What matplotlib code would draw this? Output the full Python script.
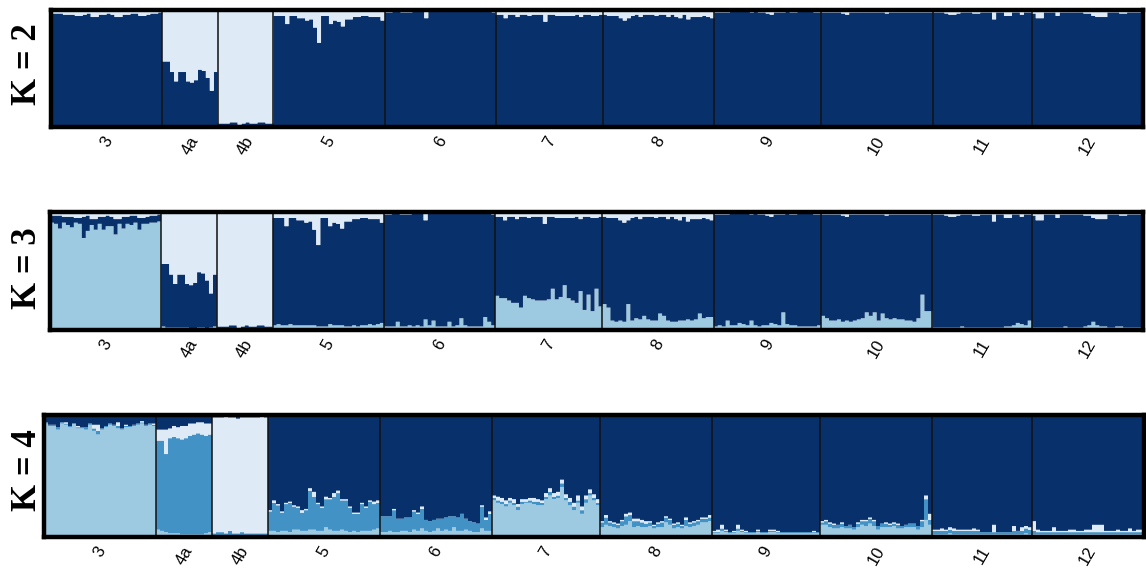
import numpy as np
import matplotlib
matplotlib.use("Agg")
import matplotlib.pyplot as plt

# populations and number of individuals in each
pops = ["3", "4a", "4b", "5", "6", "7", "8", "9", "10", "11", "12"]
n_ind = [28, 14, 14, 28, 28, 27, 28, 27, 28, 25, 28]

# cluster colours (Blues)
navy = "#08306b"
pale = "#deebf7"
light = "#9ecae1"
mid = "#4292c6"

# K=2 / K=3: membership (%) in the pale cluster, drawn on top
pale_top = [
    [3, 3, 3, 4, 4, 4, 5, 5, 4, 3, 6, 6, 4, 4, 3, 4, 6, 6, 4, 4, 3, 3, 5, 5, 4, 3, 3, 2],
    [44, 44, 53, 61, 53, 53, 61, 62, 60, 51, 52, 58, 69, 53],
    [97, 97, 97, 96, 96, 98, 97, 96, 97, 97, 96, 96, 97, 97],
    [5, 5, 5, 12, 5, 5, 7, 7, 9, 8, 15, 28, 5, 5, 12, 9, 10, 14, 8, 8, 6, 6, 5, 5, 6, 6, 6, 9],
    [2, 2, 1, 1, 2, 2, 2, 1, 1, 1, 7, 1, 1, 1, 1, 1, 1, 1, 1, 1, 1, 1, 1, 1, 1, 1, 1, 2],
    [4, 4, 7, 4, 4, 6, 4, 4, 5, 4, 4, 4, 10, 4, 4, 5, 5, 5, 5, 5, 4, 6, 4, 4, 5, 5, 4],
    [4, 5, 5, 5, 7, 9, 7, 5, 4, 6, 4, 4, 4, 5, 4, 4, 6, 4, 6, 7, 4, 8, 6, 6, 6, 5, 6, 7],
    [2, 2, 2, 2, 1, 1, 1, 1, 1, 2, 1, 2, 2, 3, 4, 2, 2, 2, 1, 2, 2, 1, 1, 1, 1, 2, 2],
    [2, 2, 2, 2, 2, 3, 4, 2, 2, 2, 2, 2, 2, 2, 2, 2, 3, 2, 2, 2, 2, 2, 2, 2, 2, 2, 2, 2],
    [2, 2, 2, 3, 4, 4, 3, 2, 2, 2, 3, 3, 2, 2, 2, 8, 2, 2, 5, 5, 2, 2, 4, 2, 2],
    [3, 7, 7, 2, 2, 2, 5, 2, 2, 2, 2, 2, 2, 3, 3, 5, 6, 6, 6, 2, 2, 2, 3, 3, 2, 2, 2, 2],
]

# K=3: membership (%) in the light-blue cluster, drawn at the bottom
k3_light = [
    [91, 90, 86, 91, 89, 87, 91, 90, 78, 84, 89, 85, 90, 85, 88, 88, 81, 90, 86, 90, 89, 91, 85, 90, 90, 91, 91, 92],
    [3, 2, 2, 2, 2, 2, 2, 1, 1, 2, 2, 1, 2, 3],
    [1, 0, 0, 1, 0, 0, 0, 1, 0, 0, 0, 1, 0, 0],
    [4, 5, 4, 4, 5, 4, 4, 4, 4, 4, 4, 3, 3, 3, 5, 4, 4, 4, 3, 3, 4, 3, 4, 4, 5, 4, 5, 6],
    [3, 3, 3, 7, 3, 3, 4, 3, 4, 3, 9, 4, 8, 3, 3, 3, 7, 3, 4, 10, 4, 3, 3, 3, 3, 11, 7, 4],
    [29, 27, 27, 25, 23, 23, 19, 29, 27, 26, 25, 25, 25, 26, 35, 26, 28, 38, 27, 25, 23, 33, 17, 30, 16, 35, 20],
    [22, 19, 8, 7, 8, 7, 22, 8, 10, 9, 12, 9, 8, 8, 14, 12, 8, 7, 7, 8, 8, 9, 8, 9, 14, 10, 11, 11],
    [3, 4, 3, 8, 4, 4, 6, 5, 4, 8, 4, 3, 4, 4, 6, 5, 4, 15, 5, 4, 4, 3, 3, 3, 3, 3, 4],
    [12, 10, 8, 8, 9, 7, 8, 7, 8, 9, 10, 15, 12, 15, 8, 14, 10, 9, 10, 9, 9, 8, 8, 7, 10, 30, 16, 16],
    [2, 2, 2, 2, 2, 2, 2, 3, 2, 2, 2, 2, 2, 2, 2, 2, 2, 2, 3, 3, 4, 6, 5, 4, 8],
    [2, 2, 2, 2, 2, 2, 2, 2, 3, 2, 2, 2, 2, 3, 4, 7, 4, 3, 3, 2, 2, 3, 3, 2, 2, 2, 2, 2],
]

# K=4: light blue (bottom), mid blue, pale; navy fills the rest
k4_light = [
    [93, 91, 91, 88, 93, 92, 90, 93, 89, 89, 88, 92, 87, 84, 88, 90, 92, 91, 89, 88, 90, 90, 91, 92, 93, 91, 92, 91],
    [6, 5, 4, 3, 3, 3, 2, 2, 2, 2, 2, 2, 3, 4],
    [1, 1, 1, 1, 1, 1, 1, 1, 1, 1, 1, 1, 1, 1],
    [5, 5, 4, 5, 5, 4, 6, 6, 5, 5, 6, 6, 5, 5, 8, 6, 5, 5, 6, 5, 4, 5, 4, 5, 5, 5, 6, 7],
    [4, 4, 5, 4, 4, 5, 5, 4, 6, 5, 7, 5, 4, 5, 7, 5, 6, 5, 8, 5, 5, 6, 5, 4, 4, 7, 5, 5],
    [30, 28, 27, 25, 28, 26, 22, 27, 28, 28, 27, 26, 26, 31, 34, 31, 32, 41, 30, 26, 22, 28, 19, 28, 34, 30, 26],
    [8, 10, 9, 8, 7, 9, 10, 13, 8, 9, 8, 8, 9, 7, 8, 8, 12, 10, 7, 8, 7, 9, 8, 9, 10, 12, 12, 13],
    [3, 3, 5, 4, 3, 3, 5, 4, 3, 3, 3, 4, 3, 3, 4, 4, 3, 3, 3, 3, 3, 3, 3, 3, 3, 3, 3],
    [10, 10, 8, 7, 7, 8, 7, 7, 6, 8, 10, 9, 11, 9, 6, 8, 8, 8, 9, 7, 7, 8, 8, 8, 6, 8, 14, 10],
    [2, 2, 2, 2, 3, 2, 2, 2, 2, 2, 2, 2, 2, 2, 2, 2, 2, 2, 2, 2, 2, 2, 2, 3, 2],
    [2, 2, 2, 2, 2, 2, 2, 2, 2, 2, 2, 2, 2, 2, 2, 2, 2, 2, 2, 2, 2, 2, 2, 2, 2, 2, 2, 2],
]
k4_mid = [
    [1, 1, 1, 2, 1, 1, 1, 0, 1, 1, 2, 1, 2, 3, 1, 1, 1, 1, 2, 1, 1, 1, 1, 1, 1, 1, 1, 1],
    [73, 74, 64, 78, 79, 78, 78, 79, 81, 82, 83, 82, 80, 80],
    [2, 3, 3, 2, 4, 2, 2, 3, 2, 2, 2, 2, 2, 2],
    [16, 23, 22, 15, 22, 24, 19, 18, 15, 17, 32, 27, 22, 19, 23, 25, 28, 31, 24, 25, 20, 14, 15, 22, 19, 24, 21, 21],
    [13, 13, 12, 18, 11, 10, 11, 12, 15, 14, 16, 9, 9, 9, 8, 10, 10, 12, 9, 11, 14, 9, 8, 8, 7, 18, 9, 14],
    [2, 2, 2, 2, 2, 2, 3, 2, 1, 2, 2, 3, 2, 2, 3, 2, 2, 3, 2, 3, 3, 2, 3, 3, 2, 2, 2],
    [4, 6, 3, 3, 3, 4, 7, 5, 5, 4, 4, 3, 3, 2, 3, 4, 4, 4, 3, 3, 2, 5, 3, 3, 3, 3, 3, 3],
    [1, 1, 2, 1, 1, 1, 2, 1, 1, 1, 1, 1, 1, 1, 1, 1, 1, 1, 1, 1, 1, 1, 1, 1, 1, 1, 1],
    [2, 3, 3, 3, 3, 3, 2, 3, 2, 3, 3, 4, 4, 4, 3, 3, 3, 2, 2, 3, 2, 2, 3, 3, 3, 5, 17, 4],
    [3, 3, 3, 3, 3, 3, 3, 3, 3, 3, 3, 3, 2, 2, 2, 2, 2, 2, 2, 2, 3, 3, 3, 4, 4],
    [3, 2, 2, 2, 2, 2, 2, 2, 2, 2, 2, 2, 2, 2, 2, 2, 2, 2, 2, 2, 2, 2, 2, 2, 2, 2, 2, 2],
]
k4_pale = [
    [0, 0, 0, 0, 0, 1, 0, 0, 1, 0, 0, 0, 3, 5, 0, 0, 0, 0, 3, 0, 1, 0, 0, 0, 1, 0, 0, 1],
    [9, 9, 20, 8, 9, 9, 11, 10, 10, 9, 9, 10, 10, 9],
    [95, 94, 94, 96, 93, 95, 94, 94, 95, 95, 95, 95, 96, 95],
    [1, 2, 1, 1, 1, 1, 1, 1, 2, 1, 2, 4, 1, 1, 2, 1, 3, 2, 1, 1, 1, 1, 1, 1, 1, 1, 2, 2],
    [0, 0, 0, 1, 0, 0, 0, 0, 1, 1, 2, 0, 0, 0, 0, 0, 0, 0, 0, 0, 0, 0, 0, 0, 0, 1, 2, 2],
    [2, 3, 3, 3, 2, 3, 2, 2, 2, 2, 3, 2, 2, 3, 3, 3, 3, 3, 3, 3, 3, 4, 3, 3, 3, 3, 3],
    [1, 2, 1, 1, 1, 1, 2, 2, 2, 2, 2, 2, 1, 1, 1, 1, 1, 1, 1, 1, 1, 2, 1, 1, 1, 1, 1, 2],
    [1, 2, 3, 1, 0, 1, 3, 1, 1, 0, 0, 1, 0, 0, 1, 1, 1, 0, 0, 0, 0, 0, 0, 0, 0, 1, 0],
    [1, 1, 1, 1, 0, 1, 0, 0, 0, 1, 1, 1, 1, 1, 0, 0, 1, 1, 1, 1, 0, 0, 0, 0, 0, 1, 3, 5],
    [1, 1, 2, 1, 2, 2, 1, 1, 1, 1, 2, 1, 0, 0, 0, 6, 0, 0, 0, 0, 4, 0, 3, 2, 2],
    [8, 2, 1, 1, 1, 4, 1, 1, 1, 2, 2, 1, 1, 2, 2, 6, 6, 6, 1, 1, 1, 2, 1, 1, 3, 1, 2, 2],
]


def flat(groups):
    for g, n in zip(groups, n_ind):
        assert len(g) == n
    return np.concatenate([np.asarray(g, float) for g in groups])


top = flat(pale_top)
l3 = flat(k3_light)
l4, m4, p4 = flat(k4_light), flat(k4_mid), flat(k4_pale)

# layers from bottom to top: (values, colour)
panels = [
    ("K = 2", [(100 - top, navy), (top, pale)]),
    ("K = 3", [(l3, light), (100 - l3 - top, navy), (top, pale)]),
    ("K = 4", [(l4, light), (m4, mid), (p4, pale), (100 - l4 - m4 - p4, navy)]),
]

W, H = 1146, 573
# axes boxes in pixels: left, top, right, bottom
boxes = [(51, 10, 1143, 127), (50, 212, 1143, 330), (44, 415, 1144, 537)]
label_y = [64, 268, 470]

fig = plt.figure(figsize=(W / 100, H / 100), dpi=100)
edges = np.arange(len(top) + 1)
bounds = np.cumsum([0] + n_ind)
centers = (bounds[:-1] + bounds[1:]) / 2

for (name, layers), (x0, y0, x1, y1), ly in zip(panels, boxes, label_y):
    ax = fig.add_axes([x0 / W, 1 - y1 / H, (x1 - x0) / W, (y1 - y0) / H])
    base = np.zeros(len(top))
    for vals, col in layers:
        ax.stairs(base + vals, edges, baseline=base, fill=True, color=col, lw=0)
        base = base + vals
    ax.vlines(bounds[1:-1], 0, 100, color="#111111", lw=1.1)
    ax.set_xlim(0, len(top))
    ax.set_ylim(0, 100)
    ax.set_yticks([])
    ax.set_xticks(centers, pops, rotation=60, ha="center",
                  fontsize=12, family="Liberation Sans")
    ax.tick_params(axis="x", length=0, pad=5)
    for s in ax.spines.values():
        s.set_linewidth(3.2)
        s.set_color("black")
    fig.text(28 / W, 1 - ly / H, name, rotation=90, ha="center", va="center",
             fontsize=25, fontweight="bold", family="Liberation Serif")

fig.savefig("out.png", dpi=100)
